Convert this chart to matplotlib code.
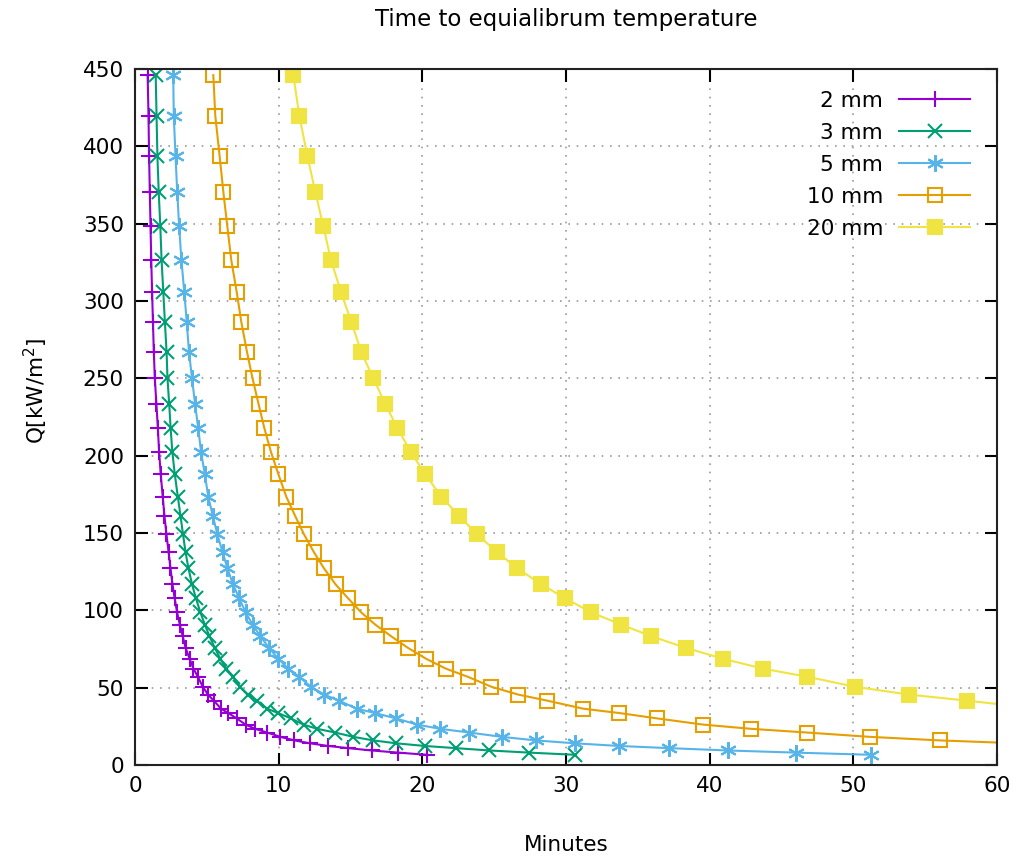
import matplotlib
matplotlib.use("Agg")
import matplotlib.pyplot as plt

# Heat flux levels shared by all series (kW/m^2)
q_levels = [446, 419.6, 393.7, 370.5, 348.7, 326.5, 305.8, 286.4, 266.8, 250.0,
            233.4, 217.9, 202.2, 188.0, 173.5, 161.0, 149.2, 137.5, 127.2, 116.8,
            107.8, 98.7, 90.8, 83.3, 75.8, 68.7, 62.3, 57.1, 50.6, 45.5,
            41.6, 36.4, 33.6, 30.1, 26.1, 23.4, 21.0, 18.2, 15.9, 14.0,
            12.3, 10.9, 9.4, 8.0, 6.6]

# Minutes to equilibrium for each thickness
t_2mm = [0.88, 0.94, 0.98, 1.03, 1.08, 1.13, 1.19, 1.25, 1.31, 1.38,
         1.49, 1.59, 1.68, 1.79, 1.93, 2.05, 2.19, 2.34, 2.47, 2.61,
         2.76, 2.93, 3.12, 3.32, 3.52, 3.80, 4.07, 4.37, 4.72, 5.08,
         5.49, 5.98, 6.49, 7.08, 7.70, 8.36, 9.20, 10.12, 11.10, 12.20,
         13.45, 14.85, 16.47, 18.33, 20.30]
t_3mm = [1.44, 1.50, 1.56, 1.65, 1.76, 1.85, 1.97, 2.08, 2.20, 2.26,
         2.38, 2.48, 2.60, 2.77, 2.98, 3.17, 3.34, 3.52, 3.72, 3.97,
         4.24, 4.55, 4.86, 5.18, 5.55, 5.94, 6.36, 6.81, 7.31, 7.86,
         8.48, 9.20, 9.96, 10.85, 11.73, 12.68, 13.92, 15.20, 16.59, 18.20,
         20.18, 22.34, 24.66, 27.45, 30.63]
t_5mm = [2.66, 2.70, 2.82, 2.94, 3.07, 3.23, 3.43, 3.60, 3.76, 3.97,
         4.18, 4.40, 4.60, 4.86, 5.10, 5.42, 5.73, 6.10, 6.43, 6.82,
         7.25, 7.70, 8.18, 8.72, 9.32, 9.98, 10.67, 11.42, 12.25, 13.17,
         14.20, 15.43, 16.70, 18.17, 19.65, 21.23, 23.27, 25.52, 27.91, 30.65,
         33.71, 37.19, 41.25, 46.00, 51.23]
t_10mm = [5.45, 5.59, 5.89, 6.15, 6.42, 6.70, 7.08, 7.40, 7.80, 8.18,
          8.60, 9.00, 9.47, 9.98, 10.53, 11.15, 11.76, 12.46, 13.15, 13.96,
          14.83, 15.74, 16.72, 17.82, 18.99, 20.26, 21.64, 23.15, 24.80, 26.68,
          28.70, 31.20, 33.71, 36.36, 39.56, 42.88, 46.76, 51.15, 56.01, 61.50]
t_20mm = [11.02, 11.44, 12.00, 12.55, 13.10, 13.64, 14.34, 15.06, 15.76, 16.59,
          17.42, 18.26, 19.21, 20.20, 21.32, 22.57, 23.80, 25.22, 26.60, 28.28,
          29.94, 31.75, 33.83, 35.93, 38.32, 40.93, 43.71, 46.77, 50.11, 53.90,
          57.93, 63.00]

labels = ["2 mm", "3 mm", "5 mm", "10 mm", "20 mm"]
times = [t_2mm, t_3mm, t_5mm, t_10mm, t_20mm]
colors = ["#9400d3", "#009e73", "#56b4e9", "#e69f00", "#f0e442"]
markers = ["+", "x", (6, 2, 0), "s", "s"]
mfc = [None, None, None, "none", "#f0e442"]
msizes = [12, 10, 12, 10, 10]

title = "Time to equialibrum temperature"
xlabel = "Minutes"
ylabel = "Q[kW/m$^2$]"
xticks = [0, 10, 20, 30, 40, 50, 60]
yticks = [0, 50, 100, 150, 200, 250, 300, 350, 400, 450]

FS = 15.5
plt.rcParams["font.family"] = ["DejaVu Sans"]
fig = plt.figure(figsize=(10.28, 8.58), dpi=100)
ax = fig.add_axes([135/1028, 1 - 765/858, (997-135)/1028, (765-69)/858])

for t, lab, c, m, fc, ms in zip(times, labels, colors, markers, mfc, msizes):
    n = len(t)
    kw = dict(color=c, lw=1.5, marker=m, markersize=ms, markeredgewidth=1.5,
              label=lab)
    if fc is not None:
        kw["markerfacecolor"] = fc
    ax.plot(t, q_levels[:n], **kw)

ax.set_xlim(0, 60)
ax.set_ylim(0, 450)
ax.set_xticks(xticks)
ax.set_yticks(yticks)
ax.tick_params(direction="in", length=9, width=1.5, top=True, right=True,
               labelsize=FS, pad=8, color="black")
for s in ax.spines.values():
    s.set_linewidth(1.5)
    s.set_color("#222222")
ax.grid(True, linestyle=(0, (1.0, 4)), color="#999999", linewidth=1.2)

ax.set_title(title, fontsize=16.5, pad=31)
ax.set_xlabel(xlabel, fontsize=FS, labelpad=28)
ax.set_ylabel(ylabel, fontsize=FS)
ax.yaxis.set_label_coords(-0.099, 0.537)

leg = ax.legend(loc="upper right", frameon=False, markerfirst=False,
                numpoints=1, handlelength=3.3, fontsize=FS, labelspacing=0.56,
                borderaxespad=0.0, handletextpad=0.75)
leg.set_bbox_to_anchor((979/1028, 1 - 82/858), transform=fig.transFigure)

fig.savefig("out.png", dpi=100)
